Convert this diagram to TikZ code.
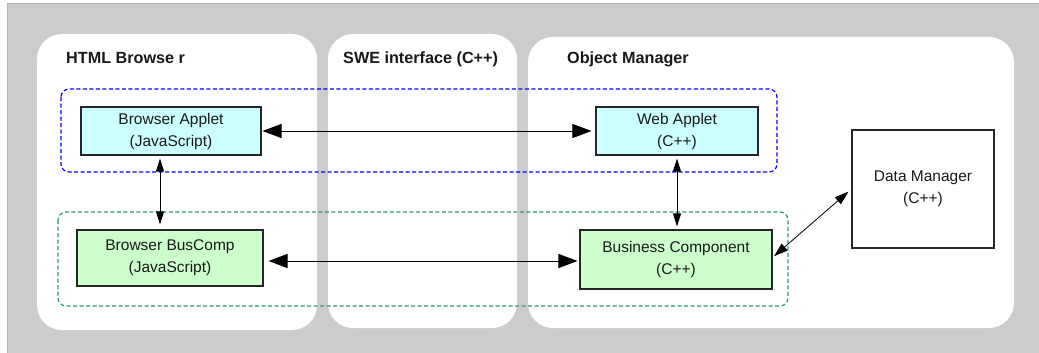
\documentclass[tikz,border=0pt]{standalone}
\usepackage{fontspec}
\setmainfont{Liberation Sans}
\usetikzlibrary{arrows.meta}
\definecolor{bggray}{HTML}{CCCCCC}
\definecolor{bgline}{HTML}{B4B4B4}
\definecolor{cyanfill}{HTML}{CCFFFF}
\definecolor{greenfill}{HTML}{CCFFCC}
\definecolor{dashblue}{HTML}{0000FF}
\definecolor{dashgreen}{HTML}{2E9A6A}
\tikzset{
  panel/.style={fill=white, rounded corners=25pt},
  grp/.style={line width=1.2pt, dash pattern=on 4pt off 2.5pt, rounded corners=8pt},
  box/.style={draw=black!85, line width=1.1pt, align=center, inner sep=0pt,
              font=\fontsize{15.5}{22}\selectfont, text=black!90},
  title/.style={anchor=base west, inner sep=0pt, font=\bfseries\fontsize{16.2}{19}\selectfont, text=black!90},
  harrow/.style={line width=1pt, {Triangle[length=19pt,width=14pt]}-{Triangle[length=19pt,width=14pt]}},
  varrow/.style={line width=1pt, {Triangle[length=13pt,width=8pt]}-{Triangle[length=13pt,width=8pt]}},
  darrow/.style={line width=0.8pt, {Triangle[length=14pt,width=9pt]}-{Triangle[length=14pt,width=9pt]}}
}
\begin{document}
\begin{tikzpicture}[x=1pt,y=-1pt]
\useasboundingbox (0,0) rectangle (1039,353);
\fill[white] (0,0) rectangle (1039,353);
\fill[bggray] (7,4) rectangle (1039,353);
\draw[bgline, line width=1pt] (7,353) -- (7,4) -- (1039,4);
% panels
\fill[panel] (37,34) rectangle (317,330);
\fill[panel] (328,34) rectangle (517,328);
\fill[panel] (528,37) rectangle (1014,328);
% titles
\node[title] (t1) at (66,64) {HTML Browse r};
\node[title] (t2) at (343,64) {SWE interface (C++)};
\node[title] (t3) at (567,64) {Object Manager};
% dashed groups
\draw[grp, dashblue] (61,89) rectangle (777,172);
\draw[grp, dashgreen] (58,212) rectangle (788,306);
% boxes
\node[box, fill=cyanfill, minimum width=180pt, minimum height=48pt] (ba) at (171,131) {Browser Applet\\(JavaScript)};
\node[box, fill=cyanfill, minimum width=162pt, minimum height=48pt] (wa) at (677,131) {Web Applet\\(C++)};
\node[box, fill=greenfill, minimum width=186pt, minimum height=56pt] (bb) at (170,258) {Browser BusComp\\(JavaScript)};
\node[box, fill=greenfill, minimum width=192pt, minimum height=59pt] (bc) at (676,259.5) {Business Component\\(C++)};
\node[box, fill=white, minimum width=142pt, minimum height=118pt] (dm) at (923,189) {Data Manager\\(C++)};
% connectors
\draw[harrow, shorten <=1pt, shorten >=4pt] (ba.east) -- (wa.west);
\draw[harrow, shorten <=5pt, shorten >=2pt] ([yshift=-3pt]bb.east) -- ([yshift=-1.5pt]bc.west);
\draw[varrow, shorten <=3pt, shorten >=5pt] ([xshift=-11pt]ba.south) -- ([xshift=-10pt]bb.north);
\draw[varrow, shorten <=3pt, shorten >=3pt] (wa.south) -- ([xshift=1pt]bc.north);
\draw[darrow, shorten <=2pt, shorten >=4pt] ([yshift=2pt]bc.east) -- (dm.west);
\end{tikzpicture}
\end{document}
